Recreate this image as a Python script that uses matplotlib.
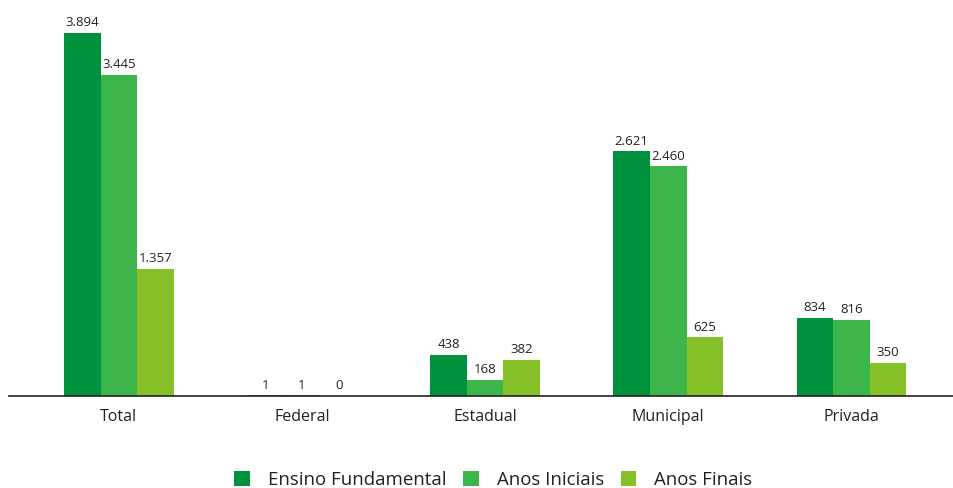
import matplotlib
matplotlib.use('Agg')
import matplotlib.pyplot as plt
import numpy as np

# chart data
categories = ['Total', 'Federal', 'Estadual', 'Municipal', 'Privada']
series_names = ['Ensino Fundamental', 'Anos Iniciais', 'Anos Finais']
ensino_fundamental = [3894, 1, 438, 2621, 834]
anos_iniciais = [3445, 1, 168, 2460, 816]
anos_finais = [1357, 0, 382, 625, 350]

colors = ['#00913f', '#3cb54a', '#86c12a']


def fmt(v):
    # portuguese thousands separator
    return f'{v:,}'.replace(',', '.')


plt.rcParams['font.family'] = ['Open Sans', 'DejaVu Sans']

fig = plt.figure(figsize=(9.54, 4.88), dpi=100)
ax = fig.add_axes([9 / 954, 92.5 / 488, 945 / 954, 376 / 488])

x = np.arange(len(categories))
width = 0.2
all_series = [ensino_fundamental, anos_iniciais, anos_finais]
for i, (vals, name) in enumerate(zip(all_series, series_names)):
    pos = x + (i - 1) * width
    bars = ax.bar(pos, vals, width, color=colors[i], label=name)
    for b, v in zip(bars, vals):
        ax.text(b.get_x() + b.get_width() / 2, v + 40, fmt(v),
                ha='center', va='bottom', fontsize=9.5, color='#222222')

ax.set_xlim(-0.6, 4.56)
ax.set_ylim(0, 376 / 0.0931)
ax.set_xticks(x)
ax.set_xticklabels(categories, fontsize=11.5, color='#222222')
ax.tick_params(axis='x', length=0, pad=10)
ax.set_yticks([])
for s in ['top', 'right', 'left']:
    ax.spines[s].set_visible(False)
ax.spines['bottom'].set_color('#222222')
ax.spines['bottom'].set_linewidth(1.2)

fig.legend(loc='center', bbox_to_anchor=(0.517, 1 - 480 / 488),
           ncol=3, frameon=False, fontsize=13.4, handlelength=0.85,
           handleheight=0.85, handletextpad=0.95, columnspacing=0.9,
           labelcolor='#222222')

fig.savefig('out.png', dpi=100)
